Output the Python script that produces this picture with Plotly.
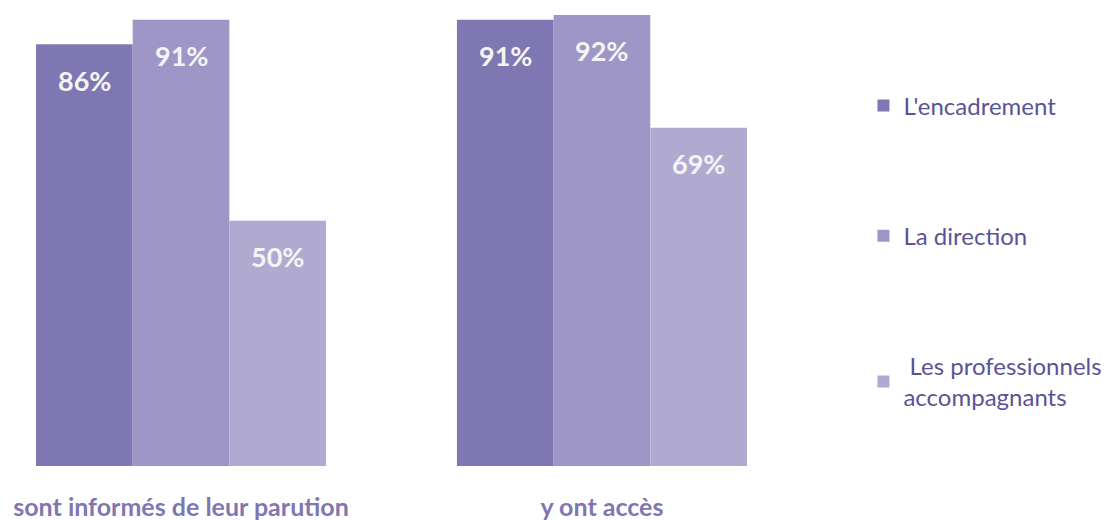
import plotly.graph_objects as go

categories = ["sont informés de leur parution", "y ont accès"]
series_names = ["L'encadrement", "La direction", " Les professionnels<br>accompagnants"]
series_values = [
    [86, 91],
    [91, 92],
    [50, 69],
]
colors = ["#7F77B2", "#9E96C7", "#B0AAD1"]

FONT = "Lato, 'Open Sans', sans-serif"
x_pos = list(range(len(categories)))
bargap = 0.311
bar_w = (1 - bargap) / len(series_values)

fig = go.Figure()
annotations = []
for i, (name, vals, col) in enumerate(zip(series_names, series_values, colors)):
    fig.add_trace(go.Bar(
        x=x_pos, y=vals, name=name, marker_color=col,
        marker_line_width=0, legendgroup=f"g{i}",
        hoverinfo="skip",
    ))
    offset = (i - (len(series_values) - 1) / 2) * bar_w
    for xp, v in zip(x_pos, vals):
        annotations.append(dict(
            x=xp + offset, y=v, text=f"<b>{v}%</b>", showarrow=False,
            yshift=-36, xanchor="center", yanchor="middle",
            font=dict(family=FONT, size=27, color="#F4F4F4"),
        ))

fig.update_layout(
    width=1110, height=520,
    margin=dict(l=0, r=250, t=10, b=54, autoexpand=False),
    paper_bgcolor="white", plot_bgcolor="white",
    barmode="group", bargap=bargap, bargroupgap=0,
    font=dict(family=FONT),
    xaxis=dict(
        range=[-0.43, 1.613], tickvals=x_pos,
        ticktext=[f"<b>{c}</b>" for c in categories],
        tickfont=dict(family=FONT, size=25, color="#7F77B2"),
        ticklabelstandoff=24,
        showgrid=False, zeroline=False, showline=False, ticks="",
        fixedrange=True,
    ),
    yaxis=dict(range=[0, 93], visible=False, fixedrange=True),
    legend=dict(
        x=1.004, xanchor="left", y=0.839, yanchor="top",
        xref="paper", yref="paper",
        font=dict(family=FONT, size=24, color="#5A5497"),
        tracegroupgap=96, itemwidth=30,
        bgcolor="rgba(0,0,0,0)",
    ),
    annotations=annotations,
    showlegend=True,
)

fig.write_html("out.html")
